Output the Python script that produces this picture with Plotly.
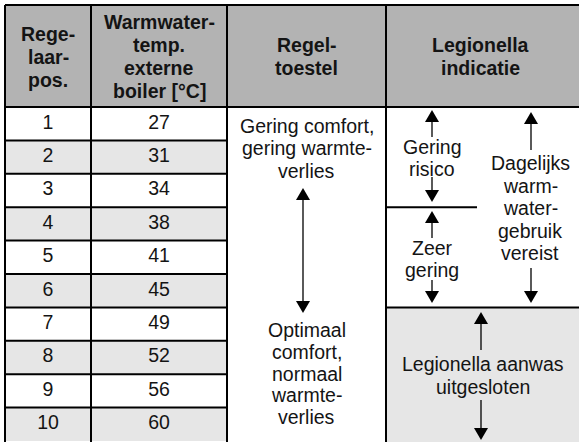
import plotly.graph_objects as go

# ---------------- data ----------------
positions = ["1", "2", "3", "4", "5", "6", "7", "8", "9", "10"]
temps = [27, 31, 34, 38, 41, 45, 49, 52, 56, 60]
header_pos = ["Rege-", "laar-", "pos."]
header_temp = ["Warmwater-", "temp.", "externe", "boiler [°C]"]
header_regel = ["Regel-", "toestel"]
header_leg = ["Legionella", "indicatie"]
regel_low = ["Gering comfort,", "gering warmte-", "verlies"]
regel_high = ["Optimaal", "comfort,", "normaal", "warmte-", "verlies"]
leg_risk = ["Gering", "risico"]
leg_very_low = ["Zeer", "gering"]
leg_daily = ["Dagelijks", "warm-", "water-", "gebruik", "vereist"]
leg_excluded = ["Legionella aanwas", "uitgesloten"]

# ---------------- layout constants ----------------
W, H = 579, 442
COLS = [5, 91, 227, 386, W]
TOP = 5
HEAD_BOT = 107
ROW_H = 33.4
HEAD_FILL = "#b3b3b3"
ZEBRA = "#e6e6e6"
TXT = "#141414"
FONT = "Liberation Sans, Arial, Helvetica, sans-serif"
FS = 19.5
LH = 22.5


def row_top(i):
    return HEAD_BOT + i * ROW_H


def row_mid(i):
    return HEAD_BOT + (i + 0.5) * ROW_H


fig = go.Figure()
shapes = []
annos = []


def rect(x0, y0, x1, y1, color):
    shapes.append(dict(type="rect", xref="x", yref="y", x0=x0, y0=y0, x1=x1, y1=y1,
                       fillcolor=color, line=dict(width=0), layer="below"))


def line(x0, y0, x1, y1, w=2):
    shapes.append(dict(type="line", xref="x", yref="y", x0=x0, y0=y0, x1=x1, y1=y1,
                       line=dict(color="black", width=w)))


def text_block(lines, cx, cy, bold=False, spacing=LH):
    n = len(lines)
    for k, t in enumerate(lines):
        y = cy + (k - (n - 1) / 2) * spacing
        annos.append(dict(x=cx, y=y, xref="x", yref="y", text=f"<b>{t}</b>" if bold else t,
                          showarrow=False, xanchor="center", yanchor="middle",
                          font=dict(family=FONT, size=FS, color=TXT)))


def arrow(x, y_tip, y_tail, head_len=12, half_w=7):
    d = 1 if y_tail > y_tip else -1
    base = y_tip + d * head_len
    line(x, base, x, y_tail, w=1.3)
    shapes.append(dict(type="path", xref="x", yref="y",
                       path=f"M {x} {y_tip} L {x - half_w} {base} L {x + half_w} {base} Z",
                       fillcolor="black", line=dict(width=0)))


# fills
rect(COLS[0], TOP, W, HEAD_BOT, HEAD_FILL)
for i in range(len(positions)):
    if i % 2 == 1:
        rect(COLS[0], row_top(i), COLS[2], row_top(i + 1), ZEBRA)
rect(COLS[3], row_top(6), W, H + 5, ZEBRA)

# grid lines
line(COLS[0], TOP, W, TOP)
line(COLS[0], HEAD_BOT, W, HEAD_BOT)
for x in COLS[:4]:
    line(x, TOP, x, H + 5)
for i in range(1, len(positions)):
    line(COLS[0], row_top(i), COLS[2], row_top(i))
line(COLS[3], row_top(3), 477, row_top(3))
line(COLS[3], row_top(6), W, row_top(6))

# table numbers as text traces
fig.add_trace(go.Scatter(x=[(COLS[0] + COLS[1]) / 2] * len(positions),
                         y=[row_mid(i) for i in range(len(positions))],
                         text=positions, mode="text", textposition="middle center",
                         textfont=dict(family=FONT, size=FS, color=TXT), hoverinfo="skip"))
fig.add_trace(go.Scatter(x=[(COLS[1] + COLS[2]) / 2] * len(temps),
                         y=[row_mid(i) for i in range(len(temps))],
                         text=[str(t) for t in temps], mode="text", textposition="middle center",
                         textfont=dict(family=FONT, size=FS, color=TXT), hoverinfo="skip"))

# headers
hmid = (TOP + HEAD_BOT) / 2 + 0.5
text_block(header_pos, (COLS[0] + COLS[1]) / 2, hmid, bold=True, spacing=23)
text_block(header_temp, (COLS[1] + COLS[2]) / 2, hmid, bold=True, spacing=23)
text_block(header_regel, (COLS[2] + COLS[3]) / 2, hmid, bold=True, spacing=23)
text_block(header_leg, (COLS[3] + COLS[4]) / 2 - 2, hmid, bold=True, spacing=23)

# Regeltoestel column
rc = (COLS[2] + COLS[3]) / 2
text_block(regel_low, rc, 148)
arrow(303, 188, 250)
arrow(303, 313, 250)
text_block(regel_high, rc, 373.5, spacing=21.6)

# Legionella column
text_block(leg_risk, 432, 158)
arrow(432, 110, 137)
arrow(432, 202, 177)
text_block(leg_very_low, 432, 259)
arrow(432, 211, 238)
arrow(432, 303, 280)
text_block(leg_daily, 530, 208)
arrow(531, 112, 150)
arrow(531, 303, 268)
text_block(leg_excluded, 483, 375.5, spacing=23)
arrow(481, 312, 350)
arrow(481, 440, 400)

fig.update_layout(
    width=W, height=H, margin=dict(l=0, r=0, t=0, b=0),
    paper_bgcolor="white", plot_bgcolor="white", showlegend=False,
    xaxis=dict(range=[0, W], visible=False, fixedrange=True),
    yaxis=dict(range=[H, 0], visible=False, fixedrange=True),
    shapes=shapes, annotations=annos,
)
fig.write_html("out.html", config={"displayModeBar": False},
               post_script="document.body.style.margin='0';document.body.style.padding='0';")
